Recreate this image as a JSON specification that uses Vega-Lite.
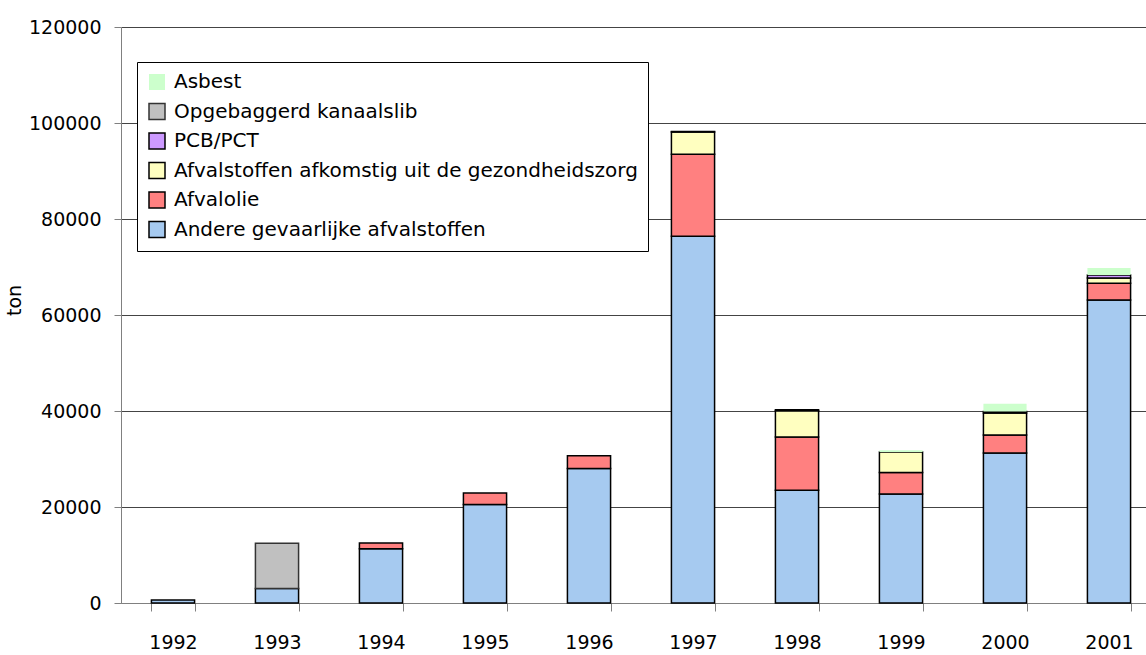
{
  "$schema": "https://vega.github.io/schema/vega-lite/v6.json",
  "autosize": "none",
  "width": 1025,
  "height": 576,
  "padding": {"left": 121, "top": 27, "right": 0, "bottom": 52},
  "background": "white",
  "config": {"view": {"stroke": null}, "font": "DejaVu Sans"},
  "data": {"values": [
    {"year": "1992", "category": "Andere gevaarlijke afvalstoffen", "value": 650},
    {"year": "1993", "category": "Andere gevaarlijke afvalstoffen", "value": 3000},
    {"year": "1994", "category": "Andere gevaarlijke afvalstoffen", "value": 11300},
    {"year": "1995", "category": "Andere gevaarlijke afvalstoffen", "value": 20500},
    {"year": "1996", "category": "Andere gevaarlijke afvalstoffen", "value": 28000},
    {"year": "1997", "category": "Andere gevaarlijke afvalstoffen", "value": 76400},
    {"year": "1998", "category": "Andere gevaarlijke afvalstoffen", "value": 23500},
    {"year": "1999", "category": "Andere gevaarlijke afvalstoffen", "value": 22700},
    {"year": "2000", "category": "Andere gevaarlijke afvalstoffen", "value": 31250},
    {"year": "2001", "category": "Andere gevaarlijke afvalstoffen", "value": 63100},
    {"year": "1994", "category": "Afvalolie", "value": 1200},
    {"year": "1995", "category": "Afvalolie", "value": 2400},
    {"year": "1996", "category": "Afvalolie", "value": 2700},
    {"year": "1997", "category": "Afvalolie", "value": 17100},
    {"year": "1998", "category": "Afvalolie", "value": 11100},
    {"year": "1999", "category": "Afvalolie", "value": 4500},
    {"year": "2000", "category": "Afvalolie", "value": 3750},
    {"year": "2001", "category": "Afvalolie", "value": 3500},
    {"year": "1997", "category": "Afvalstoffen afkomstig uit de gezondheidszorg", "value": 4600},
    {"year": "1998", "category": "Afvalstoffen afkomstig uit de gezondheidszorg", "value": 5450},
    {"year": "1999", "category": "Afvalstoffen afkomstig uit de gezondheidszorg", "value": 4250},
    {"year": "2000", "category": "Afvalstoffen afkomstig uit de gezondheidszorg", "value": 4600},
    {"year": "2001", "category": "Afvalstoffen afkomstig uit de gezondheidszorg", "value": 1100},
    {"year": "1997", "category": "PCB/PCT", "value": 150},
    {"year": "1998", "category": "PCB/PCT", "value": 200},
    {"year": "2000", "category": "PCB/PCT", "value": 300},
    {"year": "2001", "category": "PCB/PCT", "value": 650},
    {"year": "1993", "category": "Opgebaggerd kanaalslib", "value": 9450},
    {"year": "1999", "category": "Asbest", "value": 350},
    {"year": "2000", "category": "Asbest", "value": 1600},
    {"year": "2001", "category": "Asbest", "value": 1450}
  ]},
  "transform": [
    {"calculate": "indexof(['Andere gevaarlijke afvalstoffen','Afvalolie','Afvalstoffen afkomstig uit de gezondheidszorg','PCB/PCT','Opgebaggerd kanaalslib','Asbest'], datum.category)", "as": "stackOrder"}
  ],
  "mark": {"type": "bar", "strokeWidth": 1.5},
  "encoding": {
    "x": {
      "field": "year", "type": "ordinal",
      "scale": {"range": [0, 1040], "paddingInner": 0.585, "paddingOuter": 0.2925},
      "axis": {"title": null, "labelAngle": 0, "tickBand": "extent", "tickSize": 8, "tickColor": "#808080", "domainColor": "#808080", "labelPadding": 22, "labelFontSize": 19, "labelColor": "black", "grid": false}
    },
    "y": {
      "field": "value", "type": "quantitative", "stack": "zero",
      "scale": {"domain": [0, 120000], "nice": false},
      "axis": {"values": [0, 20000, 40000, 60000, 80000, 100000, 120000], "format": "d", "labelFontSize": 19, "labelColor": "black", "tickSize": 7, "tickColor": "#808080", "domainColor": "#808080", "gridColor": "#444444", "labelPadding": 13, "title": "ton", "titleFontSize": 19, "titleFontWeight": "normal", "titleColor": "black", "titleX": -97, "titleY": 273, "titleAngle": -90}
    },
    "fill": {
      "field": "category", "type": "nominal",
      "scale": {
        "domain": ["Asbest", "Opgebaggerd kanaalslib", "PCB/PCT", "Afvalstoffen afkomstig uit de gezondheidszorg", "Afvalolie", "Andere gevaarlijke afvalstoffen"],
        "range": ["#CCFFCC", "#C0C0C0", "#CC99FF", "#FFFFC0", "#FF8080", "#A6CAF0"]
      },
      "legend": {"orient": "none", "legendX": 16, "legendY": 35, "title": null, "strokeColor": "black", "fillColor": "white", "padding": 10, "symbolType": "square", "symbolSize": 256, "symbolStrokeWidth": 1.5, "labelFontSize": 20, "labelColor": "black", "labelLimit": 700, "rowPadding": 7.5, "labelOffset": 7, "cornerRadius": 0}
    },
    "stroke": {
      "field": "category", "type": "nominal",
      "scale": {
        "domain": ["Asbest", "Opgebaggerd kanaalslib", "PCB/PCT", "Afvalstoffen afkomstig uit de gezondheidszorg", "Afvalolie", "Andere gevaarlijke afvalstoffen"],
        "range": ["transparent", "#333333", "black", "black", "black", "black"]
      },
      "legend": {"orient": "none", "legendX": 16, "legendY": 35, "title": null, "strokeColor": "black", "fillColor": "white", "padding": 10, "symbolType": "square", "symbolSize": 256, "symbolStrokeWidth": 1.5, "labelFontSize": 20, "labelColor": "black", "labelLimit": 700, "rowPadding": 7.5, "labelOffset": 7, "cornerRadius": 0}
    },
    "order": {"field": "stackOrder", "type": "quantitative"}
  }
}
